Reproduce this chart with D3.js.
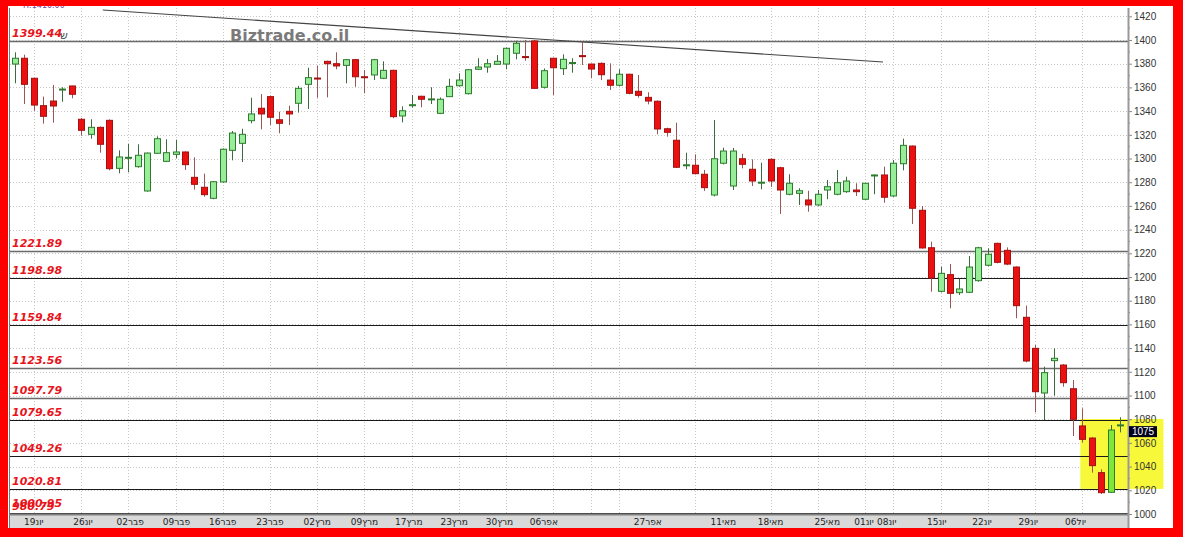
<!DOCTYPE html>
<html><head><meta charset="utf-8">
<script src="https://cdn.jsdelivr.net/npm/d3@7"></script>
<style>html,body{margin:0;padding:0;background:#fff;}svg{display:block}</style>
</head><body><svg id="c" width="1183" height="537"></svg>
<script>
// ---- data ----
const opens  = [1379.7,1384.6,1367.7,1344.6,1348.5,1357.8,1361.2,1333.1,1320.4,1326.3,1332.2,1291.7,1300.5,1293.1,1272.6,1304.4,1297.6,1303.5,1305.5,1284.1,1275.7,1266.4,1280.2,1306.9,1312.8,1331.9,1342.4,1352.2,1332.7,1339.8,1346.6,1362.6,1367.9,1382.0,1380.0,1378.6,1383.4,1369.0,1370.5,1367.7,1374.4,1335.9,1345.1,1352.5,1350.0,1338.1,1352.2,1361.4,1354.7,1375.3,1377.2,1379.5,1379.7,1388.8,1386.0,1399.2,1360.1,1384.6,1375.8,1380.3,1386.8,1379.7,1380.3,1366.2,1361.8,1371.1,1356.7,1351.6,1348.3,1325.1,1315.4,1294.1,1294.3,1286.7,1269.2,1296.0,1276.8,1299.8,1290.9,1279.4,1299.3,1292.2,1269.8,1270.6,1265.0,1260.8,1273.4,1269.8,1272.0,1273.4,1265.6,1285.7,1286.1,1268.4,1295.6,1310.5,1256.3,1224.7,1187.9,1202.0,1186.8,1187.1,1196.9,1209.9,1228.4,1222.5,1208.4,1166.0,1139.8,1102.1,1129.4,1125.7,1105.7,1074.3,1064.1,1034.9,1018.3,1074.5];
const highs  = [1389.6,1387.6,1368.0,1352.2,1362.0,1360.1,1361.5,1334.2,1333.1,1327.0,1333.0,1306.9,1312.2,1312.0,1305.0,1318.7,1316.2,1315.9,1306.0,1301.0,1287.2,1281.0,1308.5,1323.2,1325.1,1351.3,1354.4,1353.0,1339.5,1344.6,1361.2,1376.6,1378.3,1382.5,1389.6,1384.0,1384.0,1374.7,1384.0,1382.0,1375.0,1344.0,1353.6,1353.0,1360.1,1351.5,1367.3,1371.9,1375.5,1384.6,1384.0,1387.3,1393.5,1399.4,1400.0,1400.0,1376.0,1385.0,1387.9,1384.6,1398.6,1380.0,1381.0,1380.3,1375.3,1371.5,1370.5,1355.9,1349.0,1326.0,1330.2,1304.9,1303.5,1290.3,1332.5,1309.1,1308.9,1304.0,1299.3,1296.5,1300.0,1293.0,1286.7,1274.9,1272.8,1273.4,1281.9,1290.3,1284.6,1279.1,1279.5,1286.5,1293.1,1298.7,1316.7,1311.0,1259.9,1229.8,1208.7,1211.0,1198.6,1217.7,1225.5,1224.2,1229.0,1225.0,1209.0,1175.9,1142.6,1124.3,1139.8,1126.5,1113.1,1089.2,1065.0,1037.7,1075.1,1081.6];
const lows   = [1363.5,1346.0,1340.3,1329.4,1330.2,1347.9,1350.8,1319.2,1316.7,1304.9,1290.0,1287.5,1288.4,1292.2,1272.0,1304.0,1297.0,1300.2,1290.3,1273.7,1267.8,1265.6,1279.5,1298.5,1297.0,1329.7,1324.6,1328.3,1321.3,1328.3,1338.7,1341.8,1351.3,1351.6,1375.3,1363.5,1360.6,1355.0,1366.2,1367.0,1334.0,1330.5,1342.9,1343.2,1346.0,1337.5,1351.9,1360.6,1354.0,1374.7,1372.4,1379.0,1375.3,1383.7,1382.5,1359.0,1359.0,1353.6,1370.5,1372.4,1378.9,1367.7,1366.2,1357.8,1361.0,1354.2,1351.3,1345.7,1320.4,1318.4,1292.0,1290.9,1286.5,1272.6,1268.0,1295.0,1273.4,1291.7,1276.8,1274.0,1276.0,1253.2,1269.0,1260.8,1255.1,1260.0,1265.6,1269.0,1271.0,1268.4,1265.0,1269.8,1262.7,1267.5,1290.0,1244.7,1224.0,1187.6,1187.0,1173.6,1184.8,1186.5,1196.0,1209.0,1211.5,1210.0,1165.2,1128.0,1085.8,1079.3,1099.8,1107.4,1065.8,1060.2,1034.9,1016.9,1018.0,1068.9];
const closes = [1384.6,1362.6,1345.1,1335.6,1344.3,1358.6,1354.2,1323.8,1326.3,1312.0,1291.4,1301.3,1301.0,1302.7,1304.6,1316.7,1304.9,1305.5,1294.8,1278.2,1269.5,1280.4,1307.8,1321.5,1320.4,1337.6,1337.6,1334.8,1329.7,1337.6,1359.2,1368.2,1367.4,1380.0,1378.1,1383.4,1369.0,1368.2,1383.4,1374.4,1335.3,1340.3,1345.4,1350.0,1350.3,1350.0,1360.9,1366.2,1374.9,1377.2,1380.0,1382.0,1393.0,1397.2,1385.5,1359.2,1374.1,1376.6,1383.7,1381.0,1386.0,1375.5,1370.7,1361.8,1371.1,1355.0,1353.3,1348.5,1324.9,1322.1,1292.6,1294.7,1287.2,1275.4,1299.8,1306.3,1306.3,1295.1,1281.0,1280.0,1281.0,1273.4,1279.1,1272.8,1260.8,1269.8,1276.2,1279.6,1281.0,1272.0,1279.1,1286.1,1267.3,1296.0,1311.1,1258.0,1224.5,1199.2,1203.1,1186.2,1189.9,1208.4,1224.7,1219.2,1212.4,1210.9,1175.8,1129.1,1103.2,1119.3,1131.4,1110.8,1079.9,1063.0,1040.8,1018.0,1070.9,1075.2];

const tickLabels = ["19יונ","26יונ","02פבר","09פבר","16פבר","23פבר","02מרץ","09מרץ","17מרץ","23מרץ","30מרץ","06אפר","27אפר","11מאי","18מאי","25מאי","01יונ","08יונ","15יונ","22יונ","29יונ","06יול"];
const tickIdx    = [2,7.2,12.2,17.1,22,27,32,37,41.7,46.5,51.3,56,67,75,80,86,89.9,92.3,97.6,102.4,107.3,112.3];
const gridIdx    = [2,7,12,17,22,27,32,37,42,47,52,57,61,64,72,80,85,90,93,98,103,108,113];

const levels      = [1399.44,1221.89,1198.98,1159.84,1123.56,1097.79,1079.65,1049.26,1020.81,1000.95,980.79];
const levelStyle  = ["g","g","k","k","g","g","k","k","k","k","k"];
const yTicks      = d3.range(1000,1421,20);
const yMinor      = d3.range(1010,1420,20);
const trendIdx    = [9.3,91.9];
const trendPrice  = [1425.3,1381.4];
const lastPrice   = 1075;
const boxIdx      = [112.8,121.6];
const boxPrice    = [1021.2,1080.2];

// ---- layout ----
const W=1183,H=537;
const PL=10, PR=1128, PT=8, PB=514;
const svg=d3.select("#c");
const x=d3.scaleLinear().domain([0,117]).range([15,1120]);
const y=d3.scaleLinear().domain([1000,1400]).range([514,40]);

svg.append("rect").attr("width",W).attr("height",H).attr("fill","#fff");
svg.append("defs").append("clipPath").attr("id","pc").append("rect")
  .attr("x",PL).attr("y",PT).attr("width",PR-PL).attr("height",PB-PT);

// grid
const g=svg.append("g").attr("clip-path","url(#pc)");
g.selectAll(".hg").data(yTicks).enter().append("line")
  .attr("x1",PL).attr("x2",PR).attr("y1",d=>Math.round(y(d))+0.5).attr("y2",d=>Math.round(y(d))+0.5)
  .attr("stroke","#c8c8c8").attr("stroke-dasharray","1,2");
g.selectAll(".vg").data(gridIdx).enter().append("line")
  .attr("x1",d=>Math.round(x(d))+0.5).attr("x2",d=>Math.round(x(d))+0.5).attr("y1",PT).attr("y2",PB)
  .attr("stroke","#c8c8c8").attr("stroke-dasharray","1,2");

// yellow highlight (extends over axis area)
svg.append("rect").attr("x",x(boxIdx[0])).attr("y",y(boxPrice[1]))
  .attr("width",x(boxIdx[1])-x(boxIdx[0])).attr("height",y(boxPrice[0])-y(boxPrice[1]))
  .attr("fill","#f8f83a");

const g2=svg.append("g").attr("clip-path","url(#pc)");
// level lines
g2.selectAll(".lv").data(levels).enter().append("line")
  .attr("x1",PL).attr("x2",PR)
  .attr("y1",d=>Math.round(y(d))+0.5).attr("y2",d=>Math.round(y(d))+0.5)
  .attr("stroke",(d,i)=>levelStyle[i]==="g"?"#6a6a6a":"#1a1a1a")
  .attr("stroke-width",(d,i)=>levelStyle[i]==="g"?1.6:1.1);

// trend line
g2.append("line").attr("x1",x(trendIdx[0])).attr("y1",y(trendPrice[0]))
  .attr("x2",x(trendIdx[1])).attr("y2",y(trendPrice[1]))
  .attr("stroke","#444").attr("stroke-width",1.1);

// watermark
svg.append("text").attr("x",230).attr("y",41).text("Biztrade.co.il")
  .attr("font-family","DejaVu Sans").attr("font-weight","bold").attr("font-size",16)
  .attr("fill","#7a7a7a");

// candles
const idx=d3.range(opens.length);
const cg=g2.append("g");
cg.selectAll(".wk").data(idx).enter().append("line")
  .attr("x1",i=>Math.round(x(i))+0.5).attr("x2",i=>Math.round(x(i))+0.5)
  .attr("y1",i=>y(highs[i])).attr("y2",i=>y(lows[i]))
  .attr("stroke",i=>closes[i]>=opens[i]?"#3d6b3d":"#9a5555").attr("stroke-width",1);
cg.selectAll(".bd").data(idx).enter().append("rect")
  .attr("x",i=>Math.round(x(i))-2.5).attr("width",6)
  .attr("y",i=>y(Math.max(opens[i],closes[i])))
  .attr("height",i=>Math.max(1,Math.abs(y(opens[i])-y(closes[i]))))
  .attr("fill",i=>closes[i]>=opens[i]?(i===116?"#7fe63a":"#98ee98"):"#ec1111")
  .attr("stroke",i=>closes[i]>=opens[i]?"#2e7a2e":"#a31010").attr("stroke-width",1);

// level labels
svg.selectAll(".ll").data(levels).enter().append("text")
  .attr("x",12).attr("y",d=>Math.min(y(d)-4,d<990?510:507))
  .text(d=>d.toFixed(2))
  .attr("font-family","DejaVu Sans").attr("font-weight","bold").attr("font-style","italic")
  .attr("font-size",11).attr("fill","#e8141b");
svg.append("text").attr("x",60).attr("y",39).text("ש")
  .attr("font-family","DejaVu Sans").attr("font-size",11).attr("fill","#444");

// plot left border
svg.append("line").attr("x1",9.5).attr("x2",9.5).attr("y1",PT).attr("y2",528).attr("stroke","#7a7a7a");

// x axis band
svg.append("rect").attr("x",PL).attr("y",PB).attr("width",PR-PL).attr("height",14).attr("fill","#d9d9d9");
svg.append("line").attr("x1",PL).attr("x2",PR).attr("y1",PB+0.5).attr("y2",PB+0.5).attr("stroke","#808080").attr("stroke-width",2);
svg.selectAll(".xl").data(tickLabels).enter().append("text")
  .attr("x",(d,i)=>x(tickIdx[i])).attr("y",525).attr("text-anchor","middle")
  .text(d=>d).attr("font-family","DejaVu Sans").attr("font-size",9).attr("fill","#222");

// right axis
const ax=svg.append("g").attr("transform",`translate(${PR},0)`)
  .call(d3.axisRight(y).tickValues(yTicks).tickSize(4).tickPadding(2).tickFormat(d3.format("d")));
ax.select(".domain").remove();
ax.selectAll("text").attr("font-family","Liberation Sans").attr("font-size",10).attr("fill","#333");
ax.selectAll("line").attr("stroke","#888");
svg.selectAll(".mt").data(yMinor).enter().append("line")
  .attr("x1",PR).attr("x2",PR+2).attr("y1",d=>y(d)).attr("y2",d=>y(d)).attr("stroke","#888");
svg.append("line").attr("x1",PR+0.5).attr("x2",PR+0.5).attr("y1",PT).attr("y2",528).attr("stroke","#999").attr("stroke-width",2);

// last price box
svg.append("rect").attr("x",PR+1).attr("y",y(lastPrice)+1).attr("width",28).attr("height",11).attr("fill","#00001e");
svg.append("text").attr("x",PR+15).attr("y",y(lastPrice)+10).attr("text-anchor","middle").text(lastPrice)
  .attr("font-family","Liberation Sans").attr("font-size",10).attr("fill","#fff");

// top info text
svg.append("text").attr("x",23).attr("y",8).text("H:1410.00")
  .attr("font-family","DejaVu Sans").attr("font-size",8).attr("fill","#7a3fa0");

// red frame
const fr=svg.append("g").attr("fill","#ff0000");
fr.append("rect").attr("x",0).attr("y",0).attr("width",W).attr("height",6);
fr.append("rect").attr("x",0).attr("y",0).attr("width",8).attr("height",H);
fr.append("rect").attr("x",1173).attr("y",0).attr("width",10).attr("height",H);
fr.append("rect").attr("x",0).attr("y",528).attr("width",W).attr("height",9);
</script></body></html>
